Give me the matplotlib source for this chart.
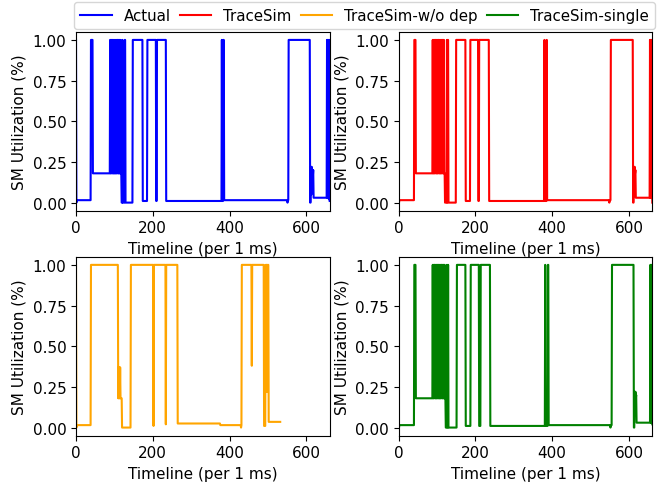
import matplotlib
matplotlib.use("Agg")
import matplotlib.pyplot as plt
import numpy as np

n_ms = 662

# step change points: (start ms, value); a list value fills consecutive ms
actual_burst = [1.0, 0.18, 1.0, 0.18, 1.0, 1.0, 0.18, 1.0, 0.18, 1.0,
                0.18, 1.0, 0.18, 0.18, 1.0, 0.18, 1.0, 0.18, 1.0, 1.0,
                0.18, 1.0, 0.18, 1.0, 0.18, 1.0, 0.18, 1.0, 0.18, 0.18]
tracesim_burst = [1.0, 0.18, 1.0, 0.18, 1.0, 0.18, 1.0, 1.0, 0.18, 1.0,
                  0.18, 1.0, 0.18, 1.0, 0.18, 1.0, 1.0, 0.18, 1.0, 0.18,
                  1.0, 0.18, 1.0, 0.18, 1.0, 1.0, 0.18, 1.0, 0.18, 1.0,
                  0.18, 0.18]
single_burst = [1.0, 0.18, 1.0, 0.18, 1.0, 1.0, 0.18, 1.0, 0.18, 1.0,
                0.18, 1.0, 0.18, 1.0, 1.0, 0.18, 1.0, 0.18, 1.0, 0.18,
                1.0, 0.18, 1.0, 1.0, 0.18, 1.0, 0.18, 1.0, 0.18, 1.0,
                0.18, 1.0, 0.18, 0.18]

actual_steps = [(0, 1.0), (1, 0.0), (2, 0.015), (39, 1.0), (44, 0.18),
                (89, actual_burst), (119, 0.0), (121, 1.0), (122, 0.0),
                (127, 1.0), (129, 0.0), (148, 1.0), (174, 0.01), (186, 1.0),
                (209, 0.01), (211, 1.0), (235, 0.01), (380, 1.0), (381, 0.01),
                (384, 1.0), (386, 0.015), (551, 0.0), (552, 0.015), (554, 1.0),
                (610, 0.0), (612, 0.22), (613, 0.05), (614, 0.22), (615, 0.1),
                (616, 0.2), (617, 0.16), (618, 0.2), (619, 0.03), (654, 1.0),
                (655, 0.03), (656, 1.0), (657, 0.03), (658, 1.0), (659, 0.02),
                (660, 1.0), (661, 0.01)]

tracesim_steps = [(0, 1.0), (1, 0.0), (2, 0.015), (41, 1.0), (45, 0.18),
                  (89, tracesim_burst), (121, 0.0), (126, 1.0), (127, 0.0),
                  (128, 1.0), (130, 0.0), (150, 1.0), (175, 0.01), (187, 1.0),
                  (208, 0.01), (210, 1.0), (236, 0.01), (380, 1.0), (381, 0.01),
                  (386, 1.0), (387, 0.015), (549, 0.0), (550, 0.015), (553, 1.0),
                  (611, 0.0), (613, 0.22), (614, 0.1), (615, 0.22), (616, 0.18),
                  (617, 0.2), (618, 0.03), (655, 1.0), (656, 0.03), (657, 1.0),
                  (658, 0.03), (659, 1.0), (661, 0.0)]

wodep_steps = [(0, 1.0), (1, 0.0), (2, 0.015), (39, 1.0), (110, 0.18),
               (111, 0.37), (112, 0.18), (113, 0.37), (114, 0.18), (115, 0.37),
               (116, 0.18), (120, 0.0), (143, 1.0), (202, 0.01), (203, 1.0),
               (234, 0.02), (235, 1.0), (265, 0.025), (376, 0.015), (430, 0.0),
               (431, 0.015), (432, 1.0), (458, 0.38), (459, 1.0), (490, 0.01),
               (494, 1.0), (495, 0.22), (496, 1.0), (499, 0.22), (500, 1.0),
               (502, 0.035), (533, None)]

single_steps = [(0, 1.0), (1, 0.0), (2, 0.015), (41, 1.0), (45, 0.18),
                (89, single_burst), (123, 0.0), (126, 1.0), (127, 0.0),
                (129, 1.0), (130, 0.0), (152, 1.0), (175, 0.01), (188, 1.0),
                (210, 0.01), (214, 1.0), (239, 0.01), (382, 1.0), (383, 0.01),
                (389, 1.0), (391, 0.015), (552, 0.0), (553, 0.015), (556, 1.0),
                (613, 0.0), (615, 0.22), (616, 0.1), (617, 0.22), (618, 0.18),
                (619, 0.2), (620, 0.03), (656, 1.0), (657, 0.03), (658, 1.0),
                (659, 0.03), (660, 1.0), (661, 0.02)]

labels = ["Actual", "TraceSim", "TraceSim-w/o dep", "TraceSim-single"]
colors = ["blue", "red", "orange", "green"]
yticks = [0.0, 0.25, 0.5, 0.75, 1.0]


def build(steps, n):
    # expand change points into one value per ms
    if steps[-1][1] is None:
        n = steps[-1][0]
        steps = steps[:-1]
    values = np.zeros(n)
    ends = [s for s, _ in steps[1:]] + [n]
    for (start, val), end in zip(steps, ends):
        if isinstance(val, list):
            values[start:start + len(val)] = val
        else:
            values[start:end] = val
    return values


series = [build(s, n_ms) for s in (actual_steps, tracesim_steps, wodep_steps, single_steps)]

fig, axes = plt.subplots(2, 2, figsize=(6.72, 4.85))
fig.subplots_adjust(left=0.1131, right=0.9707, top=0.9324, bottom=0.0996,
                    wspace=0.2714, hspace=0.257)

handles = []
for ax, y, label, color in zip(axes.flat, series, labels, colors):
    line, = ax.plot(np.arange(len(y)), y, color=color, label=label, linewidth=1.5)
    handles.append(line)
    ax.set_xlim(0, n_ms - 1)
    ax.set_yticks(yticks)
    ax.tick_params(labelsize=11)
    ax.set_xlabel("Timeline (per 1 ms)", fontsize=11)
    ax.set_ylabel("SM Utilization (%)", fontsize=11)

fig.legend(handles=handles, labels=labels, loc="upper left", ncol=4,
           bbox_to_anchor=(74 / 672, 1 - 3.3 / 485), borderaxespad=0,
           columnspacing=0.6, handlelength=2.1, fontsize=10.8)

fig.savefig("out.png", dpi=100)
